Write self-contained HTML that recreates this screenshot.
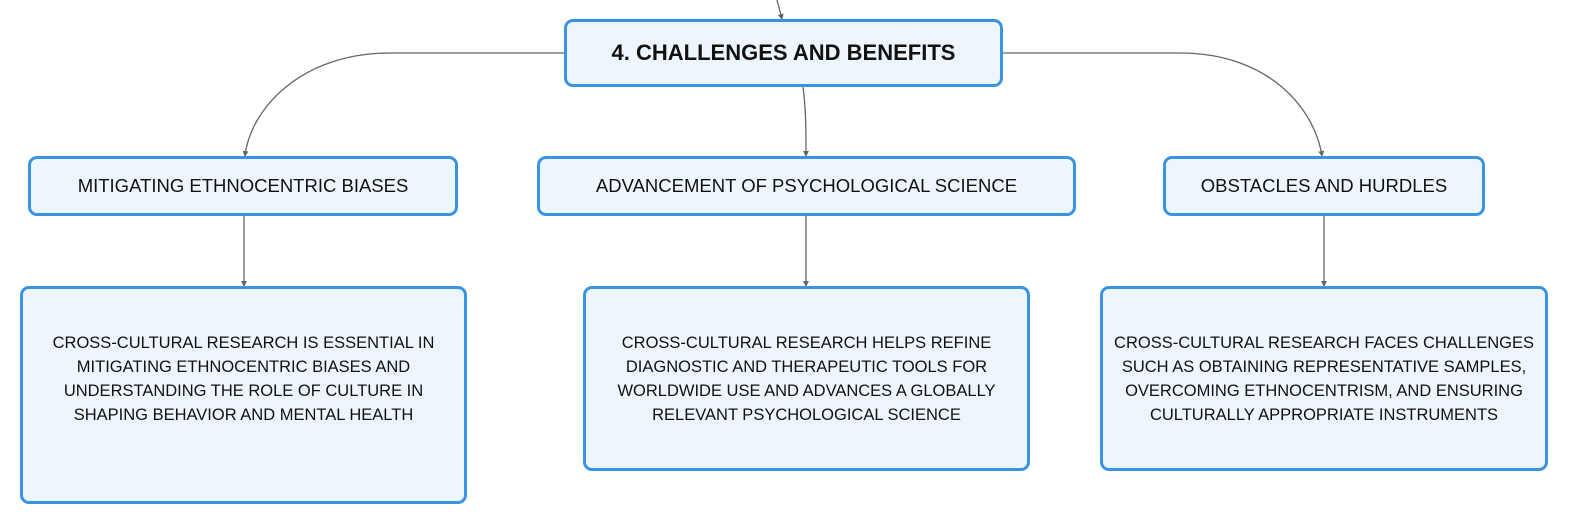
<!DOCTYPE html>
<html><head><meta charset="utf-8"><style>
body{margin:0;width:1573px;height:526px;background:#fff;position:relative;overflow:hidden;font-family:"Liberation Sans",sans-serif;color:#111}
.b{position:absolute;box-sizing:border-box;border:3px solid #3a94e2;border-radius:9px;background:#eef6fd;display:flex;align-items:center;justify-content:center;text-align:center}
.c{font-size:18.5px}
.t{font-size:16.5px;line-height:24px}
</style></head><body>
<svg width="1573" height="526" style="position:absolute;left:0;top:0">
<defs><marker id="a" markerWidth="6" markerHeight="6" refX="5" refY="3" orient="auto" markerUnits="userSpaceOnUse"><path d="M0 0 L6 3 L0 6 Z" fill="#666"/></marker></defs>
<g fill="none" stroke="#666" stroke-width="1.3">
<path d="M777 0 L782 19" marker-end="url(#a)"/>
<path d="M564 53 L390 53 C300 53 250 110 245 156" marker-end="url(#a)"/>
<path d="M1003 53 L1180 53 C1270 53 1315 110 1322 156" marker-end="url(#a)"/>
<path d="M803 87 C806 110 806 130 806 156" marker-end="url(#a)"/>
<path d="M244 216 L244 286" marker-end="url(#a)"/>
<path d="M806 216 L806 286" marker-end="url(#a)"/>
<path d="M1324 216 L1324 286" marker-end="url(#a)"/>
</g>
</svg>
<div class="b" style="left:564px;top:19px;width:439px;height:68px;font-weight:bold;font-size:22px">4. CHALLENGES AND BENEFITS</div>
<div class="b c" style="left:28px;top:156px;width:430px;height:60px">MITIGATING ETHNOCENTRIC BIASES</div>
<div class="b c" style="left:537px;top:156px;width:539px;height:60px">ADVANCEMENT OF PSYCHOLOGICAL SCIENCE</div>
<div class="b c" style="left:1163px;top:156px;width:322px;height:60px">OBSTACLES AND HURDLES</div>
<div class="b t" style="left:20px;top:286px;width:447px;height:218px;padding-bottom:32px">CROSS-CULTURAL RESEARCH IS ESSENTIAL IN<br>MITIGATING ETHNOCENTRIC BIASES AND<br>UNDERSTANDING THE ROLE OF CULTURE IN<br>SHAPING BEHAVIOR AND MENTAL HEALTH</div>
<div class="b t" style="left:583px;top:286px;width:447px;height:185px">CROSS-CULTURAL RESEARCH HELPS REFINE<br>DIAGNOSTIC AND THERAPEUTIC TOOLS FOR<br>WORLDWIDE USE AND ADVANCES A GLOBALLY<br>RELEVANT PSYCHOLOGICAL SCIENCE</div>
<div class="b t" style="left:1100px;top:286px;width:448px;height:185px">CROSS-CULTURAL RESEARCH FACES CHALLENGES<br>SUCH AS OBTAINING REPRESENTATIVE SAMPLES,<br>OVERCOMING ETHNOCENTRISM, AND ENSURING<br>CULTURALLY APPROPRIATE INSTRUMENTS</div>
</body></html>
